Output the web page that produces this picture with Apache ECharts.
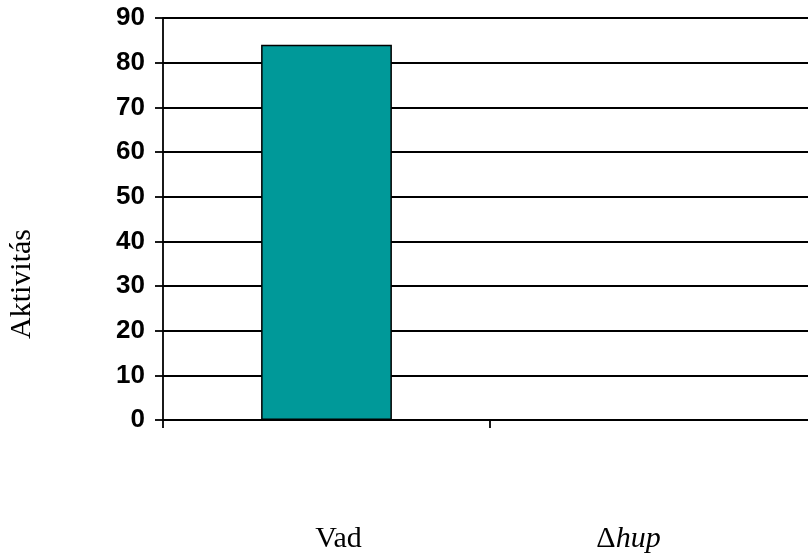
<!DOCTYPE html>
<html>
<head>
<meta charset="utf-8">
<script src="https://cdn.jsdelivr.net/npm/echarts@6/dist/echarts.min.js"></script>
<style>
html,body{margin:0;padding:0;background:#fff;overflow:hidden;width:808px;height:557px;}
#chart{width:818px;height:557px;}
</style>
</head>
<body>
<div id="chart"></div>
<script>
const categories = ['Vad', 'Δhup'];
const activity = [84, 0];
const yTicks = [0, 10, 20, 30, 40, 50, 60, 70, 80, 90];
const yAxisTitle = 'Aktivitás';

const chart = echarts.init(document.getElementById('chart'));
chart.setOption({
  animation: false,
  backgroundColor: '#ffffff',
  grid: { left: 163, top: 18, bottom: 137, right: 1, containLabel: false },
  xAxis: {
    type: 'category',
    data: categories,
    boundaryGap: true,
    axisLine: { lineStyle: { color: '#000', width: 1.8 } },
    axisTick: { show: true, length: 8, lineStyle: { color: '#000', width: 1.8 } },
    axisLabel: {
      margin: 104,
      formatter: function (v) {
        if (v === 'Vad') return '{a|Vad}';
        return '{d|Δ}{i|hup}';
      },
      rich: {
        a: { fontFamily: 'Liberation Serif', fontSize: 30, color: '#000', padding: [0, 0, 0, 24] },
        d: { fontFamily: 'Liberation Serif', fontSize: 30, color: '#000' },
        i: { fontFamily: 'Liberation Serif', fontSize: 30, color: '#000', fontStyle: 'italic', padding: [0, 50, 0, 0] }
      }
    }
  },
  yAxis: {
    type: 'value',
    min: yTicks[0],
    max: yTicks[yTicks.length - 1],
    interval: 10,
    axisLine: { show: true, lineStyle: { color: '#000', width: 1.8 } },
    axisTick: { show: true, length: 8, lineStyle: { color: '#000', width: 1.8 } },
    axisLabel: {
      margin: 18,
      fontFamily: 'Liberation Sans',
      fontWeight: 'bold',
      fontSize: 26,
      color: '#000'
    },
    splitLine: { show: true, lineStyle: { color: '#000', width: 1.8 } }
  },
  graphic: [{
    type: 'text',
    x: 22,
    y: 284,
    rotation: Math.PI / 2,
    style: {
      text: yAxisTitle,
      fontFamily: 'Liberation Serif',
      fontSize: 30,
      fill: '#000',
      align: 'center',
      verticalAlign: 'middle'
    }
  }],
  series: [{
    type: 'bar',
    data: activity,
    barWidth: '40%',
    itemStyle: { color: '#009999', borderColor: '#000', borderWidth: 1.5 }
  }]
});
</script>
</body>
</html>
